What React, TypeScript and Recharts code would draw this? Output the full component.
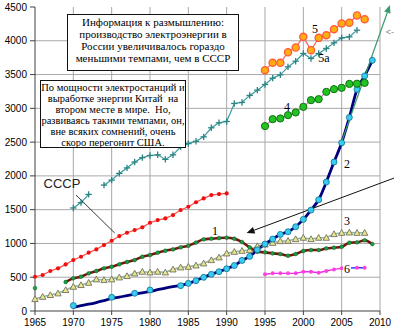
import React from "react";
import { LineChart, Line, XAxis, YAxis, CartesianGrid, ReferenceLine } from "recharts";

// ---- categories / ticks ----
const years = [
  1965, 1966, 1967, 1968, 1969, 1970, 1971, 1972, 1973, 1974, 1975, 1976, 1977, 1978, 1979,
  1980, 1981, 1982, 1983, 1984, 1985, 1986, 1987, 1988, 1989, 1990, 1991, 1992, 1993, 1994,
  1995, 1996, 1997, 1998, 1999, 2000, 2001, 2002, 2003, 2004, 2005, 2006, 2007, 2008, 2009, 2010,
];
const xTicks = [1965, 1970, 1975, 1980, 1985, 1990, 1995, 2000, 2005, 2010];
const yTicks = [0, 500, 1000, 1500, 2000, 2500, 3000, 3500, 4000, 4500];
const hGrid = [500, 1000, 1500, 2000, 2500, 3000, 3500, 4000];
const vGrid = [1970, 1975, 1980, 1985, 1990, 1995, 2000, 2005, 2010];

// ---- series (start year + values) ----
const redStart = 1965; // red dots
const redVals = [507, 533, 592, 631, 690, 754, 803, 863, 912, 976, 1040, 1109, 1158, 1198, 1238, 1306, 1346, 1371, 1420, 1494, 1543, 1610, 1667, 1716, 1731, 1741];

const tealStart = 1970; // "+" markers (СССР / 5а)
const tealVals = [1525, 1605, 1726, null, 1864, 1938, 2037, 2118, 2205, 2270, 2302, 2312, 2244, 2312, 2430, 2478, 2512, 2578, 2712, 2786, 2806, 3072, 3087, 3191, 3269, 3353, 3447, 3496, 3614, 3698, 3812, 3738, 3812, 3886, 3969, 4043, 4058, 4157];

const s1Start = 1965; // series 1, dark red with green dots
const s1Vals = [340, null, null, null, 429, 484, 508, 557, 592, 631, 655, 691, 725, 754, 803, 828, 863, 892, 912, 942, 966, 1013, 1061, 1070, 1080, 1085, 1070, 1021, 942, 877, 868, 853, 843, 818, 843, 888, 902, 902, 927, 937, 951, 1010, 1016, 1046, 991];

const s3Start = 1965; // series 3, triangles
const s3Vals = [177, 211, 237, 262, 311, 360, 385, 419, 469, 459, 469, 498, 518, 557, 582, 572, 582, 572, 616, 646, 655, 675, 705, 754, 794, 853, 877, 892, 902, 961, 986, 1010, 1035, 1040, 1065, 1085, 1065, 1085, 1085, 1139, 1158, 1163, 1158, 1158];

const s2Start = 1970; // series 2, navy line (annual)
const s2Line = [55, 80, 100, 125, 155, 185, 205, 228, 250, 270, 290, 315, 340, 362, 378, 409, 449, 498, 543, 582, 625, 673, 749, 808, 905, 991, 1065, 1134, 1173, 1247, 1356, 1494, 1647, 1910, 2205, 2490, 2865, 3280, 3480, 3710];
const s2Marks = [80, null, null, null, null, 203, null, null, 262, null, 311, null, null, null, 375, 409, 449, 498, 543, 582, 625, 673, 749, 808, 905, 991, 1065, 1134, 1173, 1247, 1356, 1494, 1647, 1910, 2205, 2490, 2865, 3280, 3480, 3710];

const s4Start = 1995; // series 4, green dots
const s4Vals = [2737, 2840, 2850, 2899, 2939, 3022, 3121, 3136, 3244, 3284, 3304, 3362, 3365, 3377];

const s5Start = 1995; // series 5, orange dots
const s5Vals = [3565, 3673, 3673, 3831, 3901, 4058, 3861, 4043, 4083, 4172, 4256, 4266, 4374, 4320];

const s6Start = 1995; // series 6, magenta
const s6Vals = [543, 557, 557, 557, 557, 582, 582, 567, 592, 616, 631];
const s6bStart = 2006; // series 6 continuation (blue)
const s6bVals = [636, 641, 641];

// projection / pointer segments (data coordinates)
const greenArrow = [{ x: 2005, y: 2505 }, { x: 2011.3, y: 4530 }];
const blackArrow = [{ x: 2012.6, y: 2000 }, { x: 1992.6, y: 1154 }];
const ussrPointer = [{ x: 1970.35, y: 1716 }, { x: 1975.4, y: 1154 }];

const pick = (start: number, vals: (number | null)[], y: number) => {
  const i = y - start;
  return i >= 0 && i < vals.length ? vals[i] : null;
};

const data = years.map((y) => ({
  year: y,
  red: pick(redStart, redVals, y),
  teal: pick(tealStart, tealVals, y),
  s1: pick(s1Start, s1Vals, y),
  s3: pick(s3Start, s3Vals, y),
  s2l: pick(s2Start, s2Line, y),
  s2m: pick(s2Start, s2Marks, y),
  s4: pick(s4Start, s4Vals, y),
  s5: pick(s5Start, s5Vals, y),
  s6: pick(s6Start, s6Vals, y),
  s6b: pick(s6bStart, s6bVals, y),
}));

const ok = (p: any) => p && p.value != null && p.cx != null && p.cy != null && !Number.isNaN(p.cy);

const circleDot = (fill: string, stroke: string, r: number, sw = 1, skipFirst = false) => (p: any) => {
  if (!ok(p) || (skipFirst && p.index === 0)) return <g key={`d${p.index}`} />;
  return <circle key={`d${p.index}`} cx={p.cx} cy={p.cy} r={r} fill={fill} stroke={stroke} strokeWidth={sw} />;
};

const plusDot = (color: string) => (p: any) => {
  if (!ok(p)) return <g key={`d${p.index}`} />;
  const s = 3.2;
  return (
    <g key={`d${p.index}`} stroke={color} strokeWidth={1.3}>
      <line x1={p.cx - s} y1={p.cy} x2={p.cx + s} y2={p.cy} />
      <line x1={p.cx} y1={p.cy - s} x2={p.cx} y2={p.cy + s} />
    </g>
  );
};

const triDot = (p: any) => {
  if (!ok(p)) return <g key={`d${p.index}`} />;
  const s = 3.2;
  return (
    <polygon
      key={`d${p.index}`}
      points={`${p.cx},${p.cy - s} ${p.cx - s},${p.cy + s * 0.8} ${p.cx + s},${p.cy + s * 0.8}`}
      fill="#ece48c"
      stroke="#707060"
      strokeWidth={0.9}
    />
  );
};

const arrowShape = (color: string, width: number, head: number, withHead = true) => (p: any) => {
  const { x1, y1, x2, y2 } = p;
  const ang = Math.atan2(y2 - y1, x2 - x1);
  const L = withHead ? head : 0;
  const W = head * 0.42;
  const bx = x2 - L * Math.cos(ang);
  const by = y2 - L * Math.sin(ang);
  const p1 = `${bx + W * Math.sin(ang)},${by - W * Math.cos(ang)}`;
  const p2 = `${bx - W * Math.sin(ang)},${by + W * Math.cos(ang)}`;
  return (
    <g>
      <line x1={x1} y1={y1} x2={bx} y2={by} stroke={color} strokeWidth={width} />
      {withHead && <polygon points={`${x2},${y2} ${p1} ${p2}`} fill={color} />}
    </g>
  );
};

const serif = "'Liberation Serif', 'Times New Roman', serif";
const sans = "'Liberation Sans', Arial, sans-serif";

const Tag = ({ x, y, text, size = 12, font = serif, color = "#000", bg }: any) => (
  <div
    style={{
      position: "absolute",
      left: x,
      top: y,
      transform: "translate(-50%, -50%)",
      fontFamily: font,
      fontSize: size,
      lineHeight: 1,
      color,
      whiteSpace: "pre",
      background: bg,
      padding: bg ? "0 1px" : 0,
    }}
  >
    {text}
  </div>
);

const box1 = ["Информация к размышлению:", "производство электроэнергии в", "России увеличивалось гораздо", "меньшими темпами, чем в СССР"];
const box2 = [
  "По мощности электростанций и",
  "выработке энергии Китай  на",
  "втором месте в мире.  Но,",
  "развиваясь такими темпами, он,",
  "вне всяких сомнений, очень",
  "скоро перегонит США.",
];

export default function App() {
  const tick = { fontFamily: sans, fontSize: 10, fill: "#000" };
  return (
    <div style={{ position: "absolute", left: 0, top: 0, width: 394, height: 331, background: "#fff", overflow: "hidden" }}>
      <LineChart width={394} height={331} data={data} margin={{ top: 7, right: 14, bottom: 0, left: 0 }}>
        <CartesianGrid stroke="#a8a8a8" strokeWidth={1} horizontalValues={hGrid} verticalValues={vGrid} />
        <XAxis
          dataKey="year"
          type="number"
          domain={[1965, 2010]}
          ticks={xTicks}
          height={20}
          tickSize={4}
          tickMargin={4}
          tick={tick}
          stroke="#404040"
          interval={0}
        />
        <YAxis
          type="number"
          domain={[0, 4500]}
          ticks={yTicks}
          width={35}
          tickSize={5}
          tickMargin={3}
          tick={tick}
          stroke="#404040"
          interval={0}
        />
        <Line dataKey="red" stroke="#ff4a4a" strokeWidth={1.2} dot={circleDot("#f01010", "none", 2.1)} isAnimationActive={false} />
        <Line dataKey="teal" stroke="#3a9a9a" strokeWidth={1.2} dot={plusDot("#2a8585")} isAnimationActive={false} />
        <Line dataKey="s3" stroke="#8fbaa4" strokeWidth={1.6} dot={triDot} isAnimationActive={false} />
        <Line type="monotone" dataKey="s1" stroke="#7a1414" strokeWidth={2.6} dot={circleDot("#14a040", "#0a6020", 1.9, 0.5)} isAnimationActive={false} />
        <Line dataKey="s6" stroke="#e030e0" strokeWidth={1.4} dot={circleDot("#ff40e0", "none", 2)} isAnimationActive={false} />
        <Line dataKey="s6b" stroke="#2a3aff" strokeWidth={1.4} dot={circleDot("#ff40e0", "none", 2, 1, true)} isAnimationActive={false} />
        <Line type="monotone" dataKey="s2l" stroke="#00007c" strokeWidth={2.8} dot={false} isAnimationActive={false} />
        <Line dataKey="s2m" stroke="none" dot={circleDot("#38ccf0", "#0a7090", 3, 0.8)} isAnimationActive={false} />
        <Line dataKey="s4" stroke="#d878d8" strokeWidth={1.2} dot={circleDot("#22c322", "#137013", 3.6, 1)} isAnimationActive={false} />
        <Line dataKey="s5" stroke="#ff6060" strokeWidth={1.2} dot={circleDot("#ffae10", "#ff5a3a", 3.6, 1.3)} isAnimationActive={false} />
        <ReferenceLine segment={greenArrow} ifOverflow="visible" shape={arrowShape("#3c9a6c", 1.2, 8)} />
        <ReferenceLine segment={blackArrow} ifOverflow="visible" shape={arrowShape("#111", 1, 8)} />
        <ReferenceLine segment={ussrPointer} ifOverflow="visible" shape={arrowShape("#222", 0.9, 0, false)} />
      </LineChart>

      <div
        style={{
          position: "absolute",
          left: 67,
          top: 14,
          width: 172,
          height: 57,
          boxSizing: "border-box",
          border: "1px solid #111",
          background: "#fff",
          fontFamily: serif,
          fontSize: 11,
          lineHeight: "12px",
          textAlign: "center",
          whiteSpace: "pre",
          paddingTop: 1,
        }}
      >
        {box1.map((l, i) => (
          <div key={i}>{l}</div>
        ))}
      </div>

      <div
        style={{
          position: "absolute",
          left: 40,
          top: 80,
          width: 146,
          height: 68,
          boxSizing: "border-box",
          border: "1px solid #111",
          background: "#fff",
          fontFamily: serif,
          fontSize: 10.5,
          lineHeight: "11px",
          textAlign: "center",
          whiteSpace: "pre",
          paddingTop: 1,
        }}
      >
        {box2.map((l, i) => (
          <div key={i}>{l}</div>
        ))}
      </div>

      <Tag x={62} y={183} text="СССР" size={13} font={sans} color="#222" />
      <Tag x={215} y={231} text="1" />
      <Tag x={347} y={164} text="2" />
      <Tag x={347} y={221} text="3" />
      <Tag x={287} y={107} text="4" />
      <Tag x={315} y={29} text="5" />
      <Tag x={324} y={58} text="5а" />
      <Tag x={347} y={269} text="6" bg="#fff" />
      <Tag x={390} y={32} text="<-" size={9} font={sans} color="#888" />
    </div>
  );
}
